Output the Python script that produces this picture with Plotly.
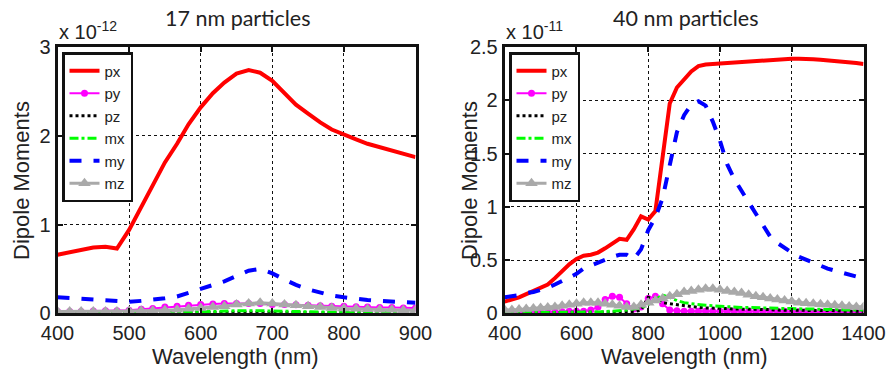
import plotly.graph_objects as go

# ---------------- 17 nm particles (values x 1e-12) ----------------
wl_17 = [400, 417, 433, 450, 467, 483, 500, 517, 533, 550, 567, 583, 600, 617, 633,
         650, 667, 683, 700, 717, 733, 750, 767, 783, 800, 817, 833, 850, 867, 883, 900]
px_17 = [0.66, 0.69, 0.72, 0.74, 0.75, 0.73, 0.94, 1.20, 1.46, 1.70, 1.91, 2.13, 2.32, 2.48, 2.60,
         2.70, 2.74, 2.71, 2.62, 2.48, 2.35, 2.25, 2.15, 2.07, 2.01, 1.96, 1.91, 1.87, 1.83, 1.80, 1.76]
py_17 = [0.02, 0.02, 0.02, 0.025, 0.03, 0.03, 0.035, 0.045, 0.055, 0.07, 0.08, 0.09, 0.10, 0.105, 0.11,
         0.11, 0.11, 0.11, 0.10, 0.10, 0.095, 0.09, 0.085, 0.08, 0.08, 0.075, 0.07, 0.065, 0.065, 0.06, 0.06]
pz_17 = [0.002, 0.002, 0.002, 0.002, 0.002, 0.002, 0.003, 0.003, 0.004, 0.005, 0.006, 0.007, 0.008, 0.009, 0.01,
         0.011, 0.012, 0.012, 0.011, 0.01, 0.009, 0.008, 0.007, 0.006, 0.005, 0.005, 0.004, 0.004, 0.003, 0.003, 0.003]
mx_17 = [0.003, 0.003, 0.003, 0.003, 0.003, 0.003, 0.004, 0.004, 0.005, 0.006, 0.008, 0.012, 0.018, 0.022, 0.026,
         0.028, 0.03, 0.03, 0.028, 0.024, 0.02, 0.016, 0.012, 0.01, 0.008, 0.007, 0.006, 0.005, 0.005, 0.004, 0.004]
my_17 = [0.18, 0.17, 0.16, 0.15, 0.14, 0.13, 0.13, 0.14, 0.15, 0.17, 0.19, 0.23, 0.27, 0.31, 0.36,
         0.42, 0.48, 0.50, 0.45, 0.38, 0.32, 0.27, 0.23, 0.20, 0.18, 0.16, 0.15, 0.14, 0.13, 0.125, 0.12]
mz_17 = [0.02, 0.02, 0.02, 0.02, 0.02, 0.02, 0.025, 0.03, 0.03, 0.035, 0.04, 0.05, 0.06, 0.07, 0.08,
         0.10, 0.11, 0.12, 0.11, 0.10, 0.09, 0.08, 0.07, 0.06, 0.055, 0.05, 0.045, 0.04, 0.04, 0.035, 0.035]

# ---------------- 40 nm particles (values x 1e-11) ----------------
wl_40 = [400, 420, 440, 460, 480, 500, 520, 540, 560, 580, 600, 620, 640, 660, 680, 700, 720, 740, 760, 780,
         800, 820, 840, 860, 880, 900, 920, 940, 960, 980, 1000, 1020, 1040, 1060, 1080, 1100, 1120, 1140,
         1160, 1180, 1200, 1220, 1240, 1260, 1280, 1300, 1320, 1340, 1360, 1380, 1400]
px_40 = [0.11, 0.13, 0.15, 0.18, 0.21, 0.23, 0.27, 0.33, 0.40, 0.46, 0.51, 0.54, 0.55, 0.57, 0.61, 0.66, 0.70, 0.69, 0.79, 0.91,
         0.88, 0.96, 1.50, 1.97, 2.12, 2.20, 2.27, 2.32, 2.335, 2.34, 2.345, 2.35, 2.35, 2.36, 2.365, 2.37, 2.375, 2.38,
         2.385, 2.39, 2.39, 2.39, 2.39, 2.385, 2.38, 2.375, 2.37, 2.36, 2.355, 2.35, 2.34]
py_40 = [0.01, 0.01, 0.01, 0.01, 0.01, 0.01, 0.01, 0.015, 0.015, 0.02, 0.02, 0.02, 0.03, 0.06, 0.13, 0.16, 0.15, 0.09, 0.04, 0.06,
         0.14, 0.16, 0.09, 0.03, 0.025, 0.02, 0.02, 0.02, 0.02, 0.02, 0.02, 0.02, 0.02, 0.02, 0.02, 0.02, 0.02, 0.02,
         0.02, 0.02, 0.015, 0.015, 0.015, 0.015, 0.015, 0.015, 0.01, 0.01, 0.01, 0.01, 0.01]
pz_40 = [0.005, 0.005, 0.005, 0.005, 0.005, 0.005, 0.005, 0.006, 0.006, 0.007, 0.008, 0.009, 0.01, 0.01, 0.01, 0.01, 0.012, 0.015, 0.015, 0.03,
         0.15, 0.13, 0.10, 0.09, 0.08, 0.07, 0.06, 0.055, 0.05, 0.05, 0.045, 0.045, 0.04, 0.04, 0.04, 0.035, 0.035, 0.035,
         0.03, 0.03, 0.03, 0.03, 0.03, 0.025, 0.025, 0.025, 0.025, 0.02, 0.02, 0.02, 0.02]
mx_40 = [0.005, 0.005, 0.005, 0.005, 0.005, 0.005, 0.005, 0.006, 0.006, 0.007, 0.008, 0.009, 0.01, 0.012, 0.015, 0.018, 0.02, 0.03, 0.04, 0.05,
         0.08, 0.13, 0.17, 0.15, 0.12, 0.10, 0.09, 0.08, 0.075, 0.07, 0.065, 0.06, 0.06, 0.055, 0.055, 0.05, 0.05, 0.05,
         0.045, 0.045, 0.045, 0.04, 0.04, 0.04, 0.035, 0.035, 0.035, 0.03, 0.03, 0.03, 0.03]
my_40 = [0.15, 0.16, 0.17, 0.19, 0.20, 0.22, 0.24, 0.27, 0.30, 0.33, 0.37, 0.42, 0.45, 0.48, 0.50, 0.53, 0.55, 0.55, 0.51, 0.60,
         0.78, 0.90, 1.08, 1.38, 1.70, 1.86, 1.96, 1.99, 1.95, 1.80, 1.62, 1.40, 1.26, 1.15, 1.04, 0.93, 0.82, 0.72,
         0.66, 0.61, 0.57, 0.53, 0.50, 0.47, 0.44, 0.42, 0.40, 0.38, 0.36, 0.345, 0.33]
mz_40 = [0.03, 0.03, 0.035, 0.04, 0.045, 0.05, 0.055, 0.06, 0.07, 0.08, 0.09, 0.10, 0.10, 0.10, 0.09, 0.08, 0.07, 0.06, 0.06, 0.08,
         0.10, 0.12, 0.14, 0.16, 0.18, 0.20, 0.21, 0.22, 0.23, 0.23, 0.22, 0.21, 0.20, 0.19, 0.175, 0.16, 0.15, 0.14,
         0.13, 0.12, 0.11, 0.10, 0.095, 0.09, 0.085, 0.08, 0.075, 0.07, 0.065, 0.06, 0.06]

x_ticks_17 = [400, 500, 600, 700, 800, 900]
y_ticks_17 = [0, 1, 2, 3]
x_ticks_40 = [400, 600, 800, 1000, 1200, 1400]
y_ticks_40 = [0, 0.5, 1, 1.5, 2, 2.5]
y_ticktext_40 = ["0", "0.5", "1", "1.5", "2", "2.5"]

names = ["px", "py", "pz", "mx", "my", "mz"]
styles = {
    "px": dict(mode="lines", line=dict(color="#ff0000", width=4)),
    "py": dict(mode="lines+markers", line=dict(color="#ff00ff", width=2),
               marker=dict(symbol="circle", size=7, color="#ff00ff")),
    "pz": dict(mode="lines", line=dict(color="#000000", width=3, dash="dot")),
    "mx": dict(mode="lines", line=dict(color="#00ff00", width=3, dash="dashdot")),
    "my": dict(mode="lines", line=dict(color="#0000ff", width=4, dash="dash")),
    "mz": dict(mode="lines+markers", line=dict(color="#a9a9a9", width=3),
               marker=dict(symbol="triangle-up", size=11, color="#a9a9a9")),
}

SANS = "Liberation Sans, Arial, sans-serif"
TICKFONT = dict(family=SANS, size=20, color="#222222")

fig = go.Figure()
data17 = dict(px=px_17, py=py_17, pz=pz_17, mx=mx_17, my=my_17, mz=mz_17)
data40 = dict(px=px_40, py=py_40, pz=pz_40, mx=mx_40, my=my_40, mz=mz_40)
for n in names:
    fig.add_trace(go.Scatter(x=wl_17, y=data17[n], name=n, xaxis="x", yaxis="y",
                             legend="legend", **styles[n]))
for n in names:
    fig.add_trace(go.Scatter(x=wl_40, y=data40[n], name=n, xaxis="x2", yaxis="y2",
                             legend="legend2", **styles[n]))

W, H = 889, 371
def px2x(p):
    return p / W
def px2y(p):
    return 1 - p / H

axis_common = dict(showline=True, linewidth=3, linecolor="#111111", mirror="ticks",
                   ticks="inside", ticklen=5, tickwidth=1.5, tickcolor="#111111",
                   showgrid=True, gridcolor="#111111", gridwidth=1, griddash="dot",
                   zeroline=False, tickfont=TICKFONT, automargin=False,
                   ticklabeloverflow="allow")

y_dom = [px2y(313.3), px2y(47)]
legend_common = dict(xanchor="left", yanchor="top", bgcolor="white", bordercolor="#111111",
                     borderwidth=2.5, font=dict(family=SANS, size=15, color="#222222"),
                     tracegroupgap=0, itemwidth=30)
fig.update_layout(
    width=W, height=H,
    margin=dict(l=0, r=0, t=0, b=0, autoexpand=False),
    paper_bgcolor="white", plot_bgcolor="white",
    xaxis=dict(domain=[px2x(57.5), px2x(415.5)], range=[400, 900], tickvals=x_ticks_17,
               anchor="y", **axis_common),
    yaxis=dict(domain=y_dom, range=[0, 3], tickvals=y_ticks_17, anchor="x", **axis_common),
    xaxis2=dict(domain=[px2x(504.7), px2x(863.5)], range=[400, 1400], tickvals=x_ticks_40,
                anchor="y2", **axis_common),
    yaxis2=dict(domain=y_dom, range=[0, 2.5], tickvals=y_ticks_40, ticktext=y_ticktext_40,
                anchor="x2", **axis_common),
    legend=dict(x=px2x(62), y=px2y(52), **legend_common),
    legend2=dict(x=px2x(509), y=px2y(52), **legend_common),
    showlegend=True,
)

TITLEFONT = dict(family="Lato, Open Sans, sans-serif", size=21.5, color="#222222")
LABELFONT = dict(family=SANS, size=22, color="#222222")
MULTFONT = dict(family=SANS, size=20, color="#222222")
YLABFONT = dict(family=SANS, size=22, color="#222222")
ann = [
    dict(text="17 nm particles", x=px2x(237), y=px2y(18), font=TITLEFONT),
    dict(text="40 nm particles", x=px2x(685), y=px2y(18), font=TITLEFONT),
    dict(text="Wavelength (nm)", x=px2x(236), y=px2y(356), font=LABELFONT),
    dict(text="Wavelength (nm)", x=px2x(684), y=px2y(356), font=LABELFONT),
    dict(text="Dipole Moments", x=px2x(22), y=px2y(181), textangle=-90, font=YLABFONT),
    dict(text="Dipole Moments", x=px2x(470), y=px2y(181), textangle=-90, font=YLABFONT),
    dict(text="x 10<sup>-12</sup>", x=px2x(57), y=px2y(45), xanchor="left", yanchor="bottom",
         font=MULTFONT),
    dict(text="x 10<sup>-11</sup>", x=px2x(504), y=px2y(45), xanchor="left", yanchor="bottom",
         font=MULTFONT),
]
for a in ann:
    a.setdefault("xanchor", "center")
    a.setdefault("yanchor", "middle")
    fig.add_annotation(xref="paper", yref="paper", showarrow=False, **a)

fig.write_html("out.html", config={"displayModeBar": False},
               post_script="document.body.style.margin='0';document.body.style.padding='0';"
                           "document.documentElement.style.overflow='hidden';")
